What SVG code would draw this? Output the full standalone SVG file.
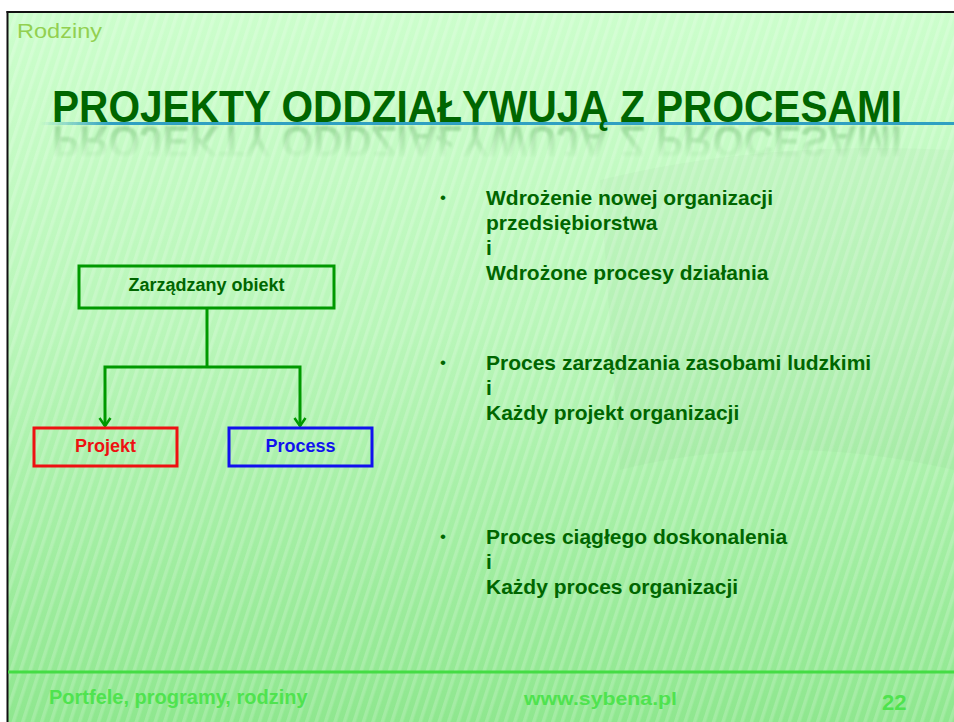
<svg xmlns="http://www.w3.org/2000/svg" xmlns:xlink="http://www.w3.org/1999/xlink" width="954" height="722" viewBox="0 0 954 722">
  <defs>
    <linearGradient id="bg" x1="0" y1="0" x2="0" y2="1">
      <stop offset="0" stop-color="#ccfecc"/>
      <stop offset="0.45" stop-color="#b9f6b9"/>
      <stop offset="1" stop-color="#8fe78f"/>
    </linearGradient>
    <pattern id="stripes" width="9" height="9" patternUnits="userSpaceOnUse" patternTransform="rotate(18)">
      <rect x="0" y="0" width="3.5" height="9" fill="#ffffff"/>
    </pattern>
    <linearGradient id="ruleFade" x1="40" y1="0" x2="110" y2="0" gradientUnits="userSpaceOnUse">
      <stop offset="0" stop-color="#2fa0c2" stop-opacity="0"/>
      <stop offset="1" stop-color="#2fa0c2" stop-opacity="1"/>
    </linearGradient>
    <linearGradient id="reflFade" x1="0" y1="124" x2="0" y2="160" gradientUnits="userSpaceOnUse">
      <stop offset="0" stop-color="#ffffff" stop-opacity="0.5"/>
      <stop offset="1" stop-color="#ffffff" stop-opacity="0"/>
    </linearGradient>
    <mask id="reflMask" maskUnits="userSpaceOnUse" x="0" y="120" width="954" height="50">
      <rect x="0" y="124" width="954" height="40" fill="url(#reflFade)"/>
    </mask>
    <filter id="soft" x="-5%" y="-20%" width="110%" height="140%">
      <feGaussianBlur stdDeviation="1.2"/>
    </filter>
    <marker id="arrowDown" markerWidth="14" markerHeight="14" refX="7" refY="11" markerUnits="userSpaceOnUse" viewBox="0 0 14 14">
      <path d="M1.5,3 L7,11 L12.5,3" fill="none" stroke="#009900" stroke-width="2.5"/>
    </marker>
  </defs>
  <style>
    .title { font-family: "Liberation Sans", Arial, sans-serif; font-weight: bold; font-size: 45px; fill: #006600; }
    .bullet { font-family: "Liberation Sans", Arial, sans-serif; font-weight: bold; font-size: 21px; fill: #006600; }
    .dot { font-family: "Liberation Sans", Arial, sans-serif; font-size: 17px; fill: #006600; }
    .nodeText { font-family: "Liberation Sans", Arial, sans-serif; font-weight: bold; font-size: 18px; text-anchor: middle; }
    .box { fill: none; stroke-width: 3; }
    .conn { fill: none; stroke: #009900; stroke-width: 3; }
    .foot { font-family: "Liberation Sans", Arial, sans-serif; font-weight: bold; fill: #4fe34f; }
  </style>

  <!-- page margin -->
  <rect x="0" y="0" width="954" height="722" fill="#ffffff"/>

  <!-- slide background -->
  <rect x="8" y="12" width="946" height="710" fill="url(#bg)"/>
  <rect x="8" y="12" width="946" height="710" fill="url(#stripes)" opacity="0.18"/>
  <!-- soft curved sheen on the right -->
  <path d="M600,180 Q760,140 954,150 L954,470 Q780,430 620,470 Z" fill="#000000" opacity="0.018"/>

  <!-- frame edges -->
  <line x1="7.5" y1="11" x2="7.5" y2="722" stroke="#111111" stroke-width="2"/>
  <line x1="6.5" y1="12" x2="954" y2="12" stroke="#111111" stroke-width="2"/>

  <!-- section label -->
  <text x="17" y="38" font-family="'Liberation Sans', Arial, sans-serif" font-size="21" fill="#92d050" textLength="85" lengthAdjust="spacingAndGlyphs">Rodziny</text>

  <!-- title with rule and reflection -->
  <line x1="40" y1="123.5" x2="954" y2="123.5" stroke="url(#ruleFade)" stroke-width="3"/>
  <text id="titleText" class="title" x="52" y="122" textLength="850" lengthAdjust="spacingAndGlyphs">PROJEKTY ODDZIAŁYWUJĄ Z PROCESAMI</text>
  <g mask="url(#reflMask)" opacity="0.45" filter="url(#soft)">
    <use xlink:href="#titleText" href="#titleText" transform="translate(0,248) scale(1,-1)"/>
  </g>

  <!-- connectors -->
  <g id="connectors">
    <path class="conn" d="M207,308 V367"/>
    <path class="conn" d="M207,367 H105 V426" marker-end="url(#arrowDown)"/>
    <path class="conn" d="M207,367 H300 V426" marker-end="url(#arrowDown)"/>
  </g>

  <!-- nodes -->
  <g id="node-zarzadzany">
    <rect class="box" x="79" y="266" width="255" height="42" stroke="#009900"/>
    <text class="nodeText" x="206.5" y="291" fill="#006600">Zarządzany obiekt</text>
  </g>
  <g id="node-projekt">
    <rect class="box" x="34" y="428" width="143" height="38" stroke="#ee1111"/>
    <text class="nodeText" x="105.5" y="452" fill="#ee1111">Projekt</text>
  </g>
  <g id="node-process">
    <rect class="box" x="229" y="428" width="143" height="38" stroke="#1111ee"/>
    <text class="nodeText" x="300.5" y="452" fill="#1111ee">Process</text>
  </g>

  <!-- bullet list -->
  <g id="bullets">
    <text class="dot" x="440" y="203">•</text>
    <text class="bullet" x="486" y="205">Wdrożenie nowej organizacji</text>
    <text class="bullet" x="486" y="230">przedsiębiorstwa</text>
    <text class="bullet" x="486" y="255">i</text>
    <text class="bullet" x="486" y="280">Wdrożone procesy działania</text>

    <text class="dot" x="440" y="368">•</text>
    <text class="bullet" x="486" y="370">Proces zarządzania zasobami ludzkimi</text>
    <text class="bullet" x="486" y="395">i</text>
    <text class="bullet" x="486" y="420">Każdy projekt organizacji</text>

    <text class="dot" x="440" y="542">•</text>
    <text class="bullet" x="486" y="544">Proces ciągłego doskonalenia</text>
    <text class="bullet" x="486" y="569">i</text>
    <text class="bullet" x="486" y="594">Każdy proces organizacji</text>
  </g>

  <!-- footer -->
  <line x1="8" y1="672" x2="954" y2="672" stroke="#45dc45" stroke-width="3"/>
  <text class="foot" x="49" y="704" font-size="20">Portfele, programy, rodziny</text>
  <text class="foot" x="524" y="705" font-size="19" textLength="153" lengthAdjust="spacingAndGlyphs">www.sybena.pl</text>
  <text class="foot" x="882" y="710" font-size="22">22</text>
</svg>
